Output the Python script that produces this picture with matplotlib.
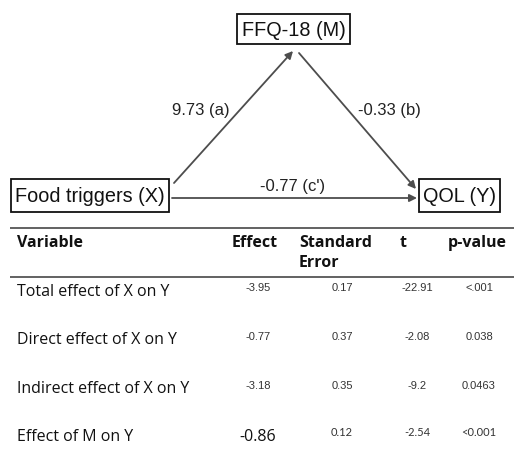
import matplotlib.pyplot as plt
from matplotlib.patches import Rectangle

# mediation model: X -> M -> Y plus direct path X -> Y
node_names = ["Food triggers (X)", "FFQ-18 (M)", "QOL (Y)"]
path_names = ["a", "b", "c'"]
path_coefs = [9.73, -0.33, -0.77]

# regression table
columns = ["Variable", "Effect", "Standard\nError", "t", "p-value"]
variables = ["Total effect of X on Y", "Direct effect of X on Y",
             "Indirect effect of X on Y", "Effect of M on Y"]
effects = [-3.95, -0.77, -3.18, -0.86]
std_errors = [0.17, 0.37, 0.35, 0.12]
t_values = [-22.91, -2.08, -9.2, -2.54]
p_values = ["<.001", "0.038", "0.0463", "<0.001"]

W, H = 514, 459
fig = plt.figure(figsize=(W / 100, H / 100), dpi=100)
ax = fig.add_axes([0, 0, 1, 1])
ax.set_xlim(0, W)
ax.set_ylim(H, 0)
ax.axis('off')

diagram_font = 'Liberation Sans'
table_font = 'Open Sans'

# node boxes: (left, top, right, bottom)
boxes = [(11, 179, 169, 212), (237, 14, 350, 44), (419, 179, 500, 212)]
for name, (x0, y0, x1, y1) in zip(node_names, boxes):
    ax.add_patch(Rectangle((x0, y0), x1 - x0, y1 - y0, fill=False,
                           ec='#111111', lw=1.3))
    ax.text((x0 + x1) / 2, (y0 + y1) / 2 + 1, name, ha='center', va='center',
            fontsize=14.3, family=diagram_font, color='#111111')

# paths: start, end, label position
paths = [((174, 183), (293, 51), (201, 111)),
         ((299, 53), (416, 189), (389, 111)),
         ((172, 198), (417, 198), (293, 187))]
for name, coef, (start, end, lab) in zip(path_names, path_coefs, paths):
    ax.annotate('', xy=end, xytext=start,
                arrowprops=dict(arrowstyle='-|>', color='#4d4d4d', lw=1.3,
                                mutation_scale=11, shrinkA=0, shrinkB=0))
    ax.text(lab[0], lab[1], f"{coef:.2f} ({name})", ha='center', va='center',
            fontsize=12, family=diagram_font, color='#222222')

# table rules
for y in (228, 277):
    ax.plot([10, W], [y, y], color='#555555', lw=1.3, solid_capstyle='butt')

# header
header_x = [17, 232, 299, 400, 448]
for x, col in zip(header_x, columns):
    ax.text(x, 235, col, ha='left', va='top', fontsize=11.5,
            family=table_font, fontweight='bold', color='#111111',
            linespacing=1.3)

row_y = [292, 340, 389, 437]
num_y = [288, 337, 386, 433]
col_cx = [258, 342, 417, 479]
for i, var in enumerate(variables):
    ax.text(17, row_y[i], var, ha='left', va='center', fontsize=11.5,
            family=table_font, color='#111111')
    last = i == len(variables) - 1
    cells = [f"{effects[i]:g}", f"{std_errors[i]:g}", f"{t_values[i]:g}", p_values[i]]
    for j, (cx, s) in enumerate(zip(col_cx, cells)):
        if last and j == 0:
            ax.text(cx, row_y[i], s, ha='center', va='center', fontsize=11.5,
                    family=table_font, color='#111111')
        else:
            ax.text(cx, num_y[i], s, ha='center', va='center', fontsize=8,
                    family='Lato' if last else diagram_font, color='#333333')

fig.savefig('out.png', dpi=100)
